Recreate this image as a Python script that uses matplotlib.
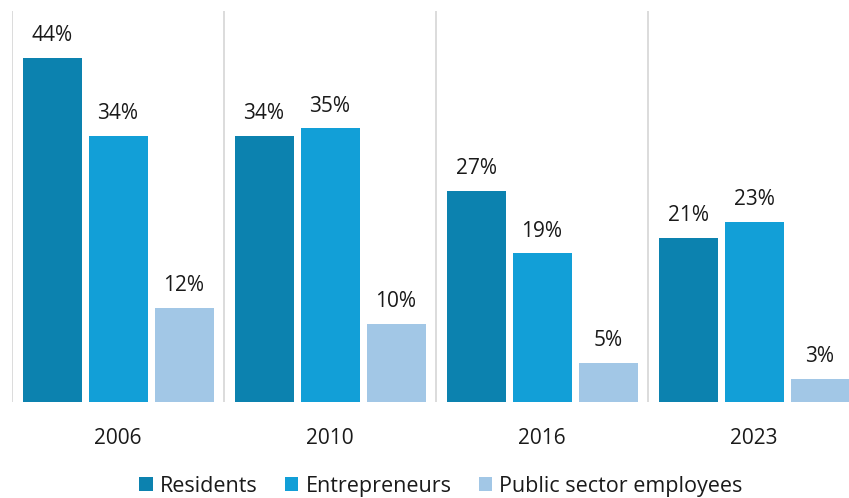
import matplotlib
matplotlib.use("Agg")
import matplotlib.pyplot as plt
import numpy as np

plt.rcParams['font.family'] = ['Open Sans', 'DejaVu Sans']

years = ["2006", "2010", "2016", "2023"]
series_names = ["Residents", "Entrepreneurs", "Public sector employees"]
residents = [44, 34, 27, 21]
entrepreneurs = [34, 35, 19, 23]
public_sector = [12, 10, 5, 3]
colors = ["#0C82AF", "#129FD7", "#A2C7E6"]

W, H = 849, 498
fig = plt.figure(figsize=(W / 100, H / 100), dpi=100)
left_px, right_px, top_px, base_px = 12, 860, 11, 402
ax = fig.add_axes([left_px / W, (H - base_px) / H, (right_px - left_px) / W, (base_px - top_px) / H])

x = np.arange(len(years))
bw = 59 / 212
step = 66 / 212
values = [residents, entrepreneurs, public_sector]
for i, (name, vals, c) in enumerate(zip(series_names, values, colors)):
    pos = x + (i - 1) * step
    bars = ax.bar(pos, vals, width=bw, color=c, label=name, zorder=3)
    for xp, v in zip(pos, vals):
        ax.annotate(f"{v}%", (xp, v), xytext=(0, 12), textcoords="offset points",
                    ha="center", va="baseline", fontsize=15, color="#1a1a1a")

for b in np.arange(-0.5, len(years) - 0.5, 1.0):
    ax.axvline(b, color="#d9d9d9", lw=1.3, zorder=1)

ax.set_xlim(-0.5, len(years) - 0.5)
ax.set_ylim(0, 50)
ax.set_xticks(x)
ax.set_xticklabels(years, fontsize=15, color="#1a1a1a")
ax.tick_params(axis="x", length=0, pad=19)
ax.set_yticks([])
for s in ax.spines.values():
    s.set_visible(False)

fig.legend(loc="lower center", bbox_to_anchor=(441 / W, -0.036), ncol=3, frameon=False,
           fontsize=15.5, handlelength=0.62, handleheight=0.62, handletextpad=0.35,
           columnspacing=1.25, labelcolor="#1a1a1a")

fig.savefig("out.png", dpi=100)
